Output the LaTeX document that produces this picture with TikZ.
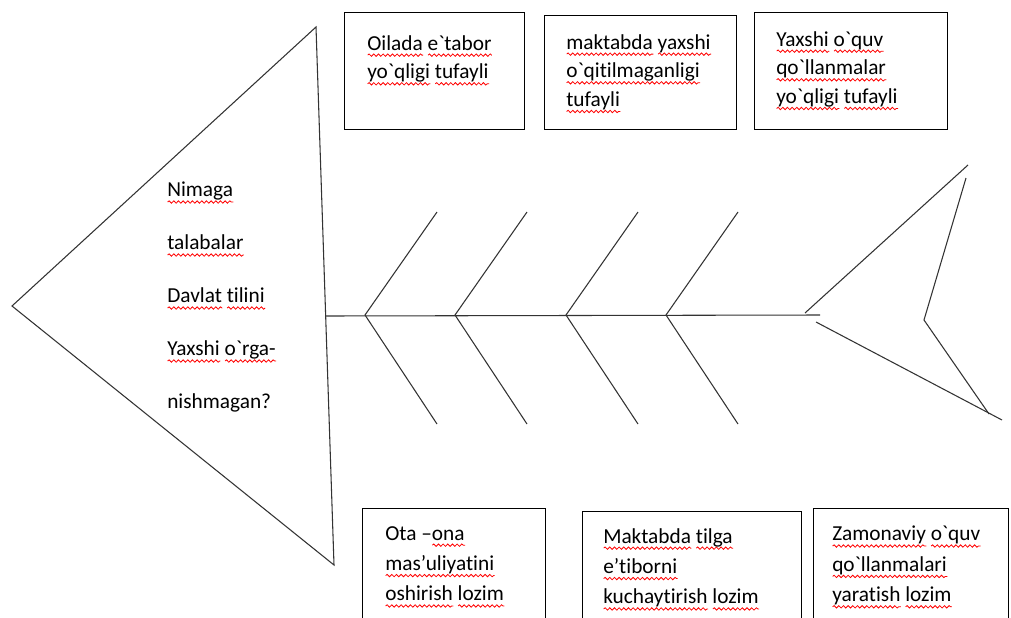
\documentclass[tikz,border=0pt]{standalone}
\usepackage{fontspec}
\setmainfont{Carlito}[Ligatures={TeX,NoCommon}]
\usetikzlibrary{positioning,decorations.pathmorphing}

\newsavebox\palabra
\newcommand\wv[1]{\sbox\palabra{#1}\makebox[0pt][l]{\tikz[x=1pt,y=1pt,baseline=0pt]
    \draw[red,line width=0.6pt,decorate,decoration={snake,amplitude=0.9pt,segment length=3.5pt}]
    (0pt,-3.8pt) -- (\the\wd\palabra,-3.8pt);}\usebox\palabra}
\newcommand\gr{\textasciigrave}

\begin{document}
\begin{tikzpicture}[x=0.75pt,y=-0.75pt,
    caja/.style={draw,line width=1pt,inner sep=0pt,anchor=north west},
    texto/.style={inner sep=0pt,anchor=north west,align=left,font=\fontsize{16}{21.5}\selectfont},
    textob/.style={texto,font=\fontsize{16}{22.8}\selectfont},
    hueso/.style={draw=linea,line width=0.8pt}]
        %colores
        \colorlet{linea}{black!80}
        \useasboundingbox (0,0) rectangle (1011,618);

        % Cabeza
        \coordinate (punta) at (12,306);
        \coordinate (cabT) at (316,27);
        \coordinate (cabB) at (334,565);
        \draw[hueso] (punta) -- (cabT) -- (cabB) -- cycle;
        \node[texto,font=\fontsize{16}{39.75}\selectfont] (pregunta) at (167,182)
            {\wv{Nimaga}\\ \wv{talabalar}\\ \wv{Davlat} \wv{tilini}\\ \wv{Yaxshi} \wv{o\gr{}rga-}\\ nishmagan?};

        % Espina y huesos
        \coordinate (espS) at (325,316);
        \coordinate (espE) at (820,315);
        \draw[hueso] (espS) -- (espE);
        \foreach \n/\a/\b in {1/365/437,2/455/527,3/566/638,4/666/738}{
            \coordinate (j\n) at (\a,315);
            \coordinate (sup\n) at (\b,212);
            \coordinate (inf\n) at (\b,424);
            \draw[hueso] (sup\n) -- (j\n) -- (inf\n);
        }

        % Cola
        \coordinate (t1) at (805,313);
        \coordinate (t2) at (968,165);
        \coordinate (t3) at (966,178);
        \coordinate (t4) at (924,320);
        \coordinate (t5) at (989,414);
        \coordinate (t6) at (816,322);
        \coordinate (t7) at (1002,420);
        \draw[hueso] (t1) -- (t2);
        \draw[hueso] (t3) -- (t4) -- (t5);
        \draw[hueso] (t6) -- (t7);

        % Cajas de arriba
        \node[caja,minimum width=135pt,minimum height=87.75pt] (c1) at (344,12) {};
        \node[caja,minimum width=144pt,minimum height=85.5pt] (c2) at (544,15) {};
        \node[caja,minimum width=144.75pt,minimum height=87.75pt] (c3) at (754,12) {};
        \node[texto] (t c1) at ([shift={(23,23)}]c1.north west)
            {\wv{Oilada} \wv{e\gr{}tabor}\\ \wv{yo\gr{}qligi} \wv{tufayli}};
        \node[texto] (t c2) at ([shift={(22,19)}]c2.north west)
            {\wv{maktabda} \wv{yaxshi}\\ \wv{o\gr{}qitilmaganligi}\\ \wv{tufayli}};
        \node[texto] (t c3) at ([shift={(22,19)}]c3.north west)
            {\wv{Yaxshi} \wv{o\gr{}quv}\\ \wv{qo\gr{}llanmalar}\\ \wv{yo\gr{}qligi} \wv{tufayli}};

        % Cajas de abajo
        \node[caja,minimum width=137.25pt,minimum height=100pt] (c4) at (362,508) {};
        \node[caja,minimum width=164.25pt,minimum height=98pt] (c5) at (582,511) {};
        \node[caja,minimum width=146.25pt,minimum height=100pt] (c6) at (813,508) {};
        \node[textob] (t c4) at ([shift={(23,18)}]c4.north west)
            {Ota –\wv{ona}\\ \wv{mas’uliyatini}\\ \wv{oshirish} \wv{lozim}};
        \node[textob] (t c5) at ([shift={(21,17)}]c5.north west)
            {\wv{Maktabda} \wv{tilga}\\ \wv{e’tiborni}\\ \wv{kuchaytirish} \wv{lozim}};
        \node[textob] (t c6) at ([shift={(19,18)}]c6.north west)
            {\wv{Zamonaviy} \wv{o\gr{}quv}\\ \wv{qo\gr{}llanmalari}\\ \wv{yaratish} \wv{lozim}};
    \end{tikzpicture}
\end{document}
